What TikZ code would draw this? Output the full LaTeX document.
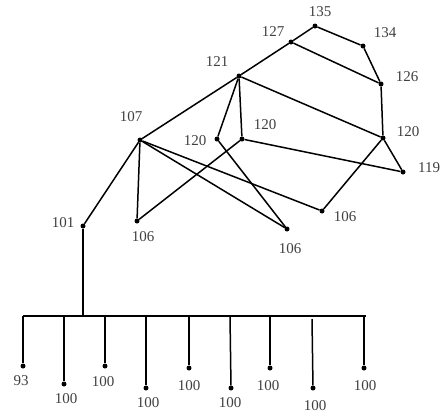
\documentclass[tikz,border=0pt]{standalone}
\usepackage{fontspec}
\setmainfont{Liberation Serif}
\begin{document}
\begin{tikzpicture}[x=1pt,y=-1pt,
  vtx/.style={circle,fill=black,inner sep=0pt,minimum size=5pt},
  lbl/.style={font=\fontsize{15}{15}\selectfont,text=black!75,inner sep=0pt},
  edge/.style={line width=1.5pt}]
\useasboundingbox (0,0) rectangle (441,418);
% vertices
\node[vtx] (n135) at (315,26) {};
\node[vtx] (n127) at (291,42) {};
\node[vtx] (n134) at (363,46) {};
\node[vtx] (n126) at (381,84) {};
\node[vtx] (n121) at (239,76) {};
\node[vtx] (n120r) at (383,138) {};
\node[vtx] (n119) at (403,172) {};
\node[vtx] (n107) at (140,140) {};
\node[vtx] (n120l) at (217,139) {};
\node[vtx] (n120m) at (242,139) {};
\node[vtx] (n101) at (83,226) {};
\node[vtx] (n106l) at (137,221) {};
\node[vtx] (n106m) at (287,229) {};
\node[vtx] (n106r) at (322,211) {};
\coordinate (bar) at (83,316);
\coordinate (barL) at (23,316);
\coordinate (barR) at (366,316);
% leaves
\coordinate (t1) at (23,316); \node[vtx] (l1) at (23,366) {};
\coordinate (t2) at (64,316); \node[vtx] (l2) at (64,384) {};
\coordinate (t3) at (105,316); \node[vtx] (l3) at (105,366) {};
\coordinate (t4) at (146,316); \node[vtx] (l4) at (146,388) {};
\coordinate (t5) at (189,316); \node[vtx] (l5) at (189,368) {};
\coordinate (t6) at (230,316); \node[vtx] (l6) at (231,388) {};
\coordinate (t7) at (270,316); \node[vtx] (l7) at (270,368) {};
\coordinate (t8) at (312,319); \node[vtx] (l8) at (313,388) {};
\coordinate (t9) at (364,316); \node[vtx] (l9) at (364,368) {};
% labels
\node[lbl] (a135) at (320,12) {135};
\node[lbl] (a127) at (273,32) {127};
\node[lbl] (a134) at (385,33) {134};
\node[lbl] (a126) at (407,77) {126};
\node[lbl] (a121) at (217,62) {121};
\node[lbl] (a120r) at (408,132) {120};
\node[lbl,anchor=west] (a119) at (418,168) {119};
\node[lbl] (a107) at (131,117) {107};
\node[lbl] (a120l) at (195,141) {120};
\node[lbl] (a120m) at (265,125) {120};
\node[lbl] (a101) at (63,223) {101};
\node[lbl] (a106l) at (143,237) {106};
\node[lbl] (a106m) at (290,249) {106};
\node[lbl] (a106r) at (345,217) {106};
\node[lbl] (b1) at (21,381) {93};
\node[lbl] (b2) at (66,399) {100};
\node[lbl] (b3) at (103,382) {100};
\node[lbl] (b4) at (148,403) {100};
\node[lbl] (b5) at (189,386) {100};
\node[lbl] (b6) at (230,403) {100};
\node[lbl] (b7) at (268,386) {100};
\node[lbl] (b8) at (315,406) {100};
\node[lbl] (b9) at (365,386) {100};
% edges
\draw[edge] (n135) -- (n127);
\draw[edge] (n135) -- (n134);
\draw[edge] (n134) -- (n126);
\draw[edge] (n127) -- (n126);
\draw[edge] (n127) -- (n121);
\draw[edge] (n126) -- (n120r);
\draw[edge] (n121) -- (n120r);
\draw[edge] (n121) -- (n120l);
\draw[edge] (n121) -- (n120m);
\draw[edge] (n121) -- (n107);
\draw[edge] (n120m) -- (n119);
\draw[edge] (n120r) -- (n119);
\draw[edge] (n120r) -- (n106r);
\draw[edge] (n120m) -- (n106l);
\draw[edge] (n120l) -- (n106m);
\draw[edge] (n107) -- (n106l);
\draw[edge] (n107) -- (n101);
\draw[edge] (n107) -- (n106m);
\draw[edge] (n107) -- (n106r);
\draw[edge] (n101) -- (bar);
\draw[edge] (barL) -- (barR);
\foreach \i in {1,...,9} {\draw[edge] (t\i) -- (l\i);}
\end{tikzpicture}
\end{document}
